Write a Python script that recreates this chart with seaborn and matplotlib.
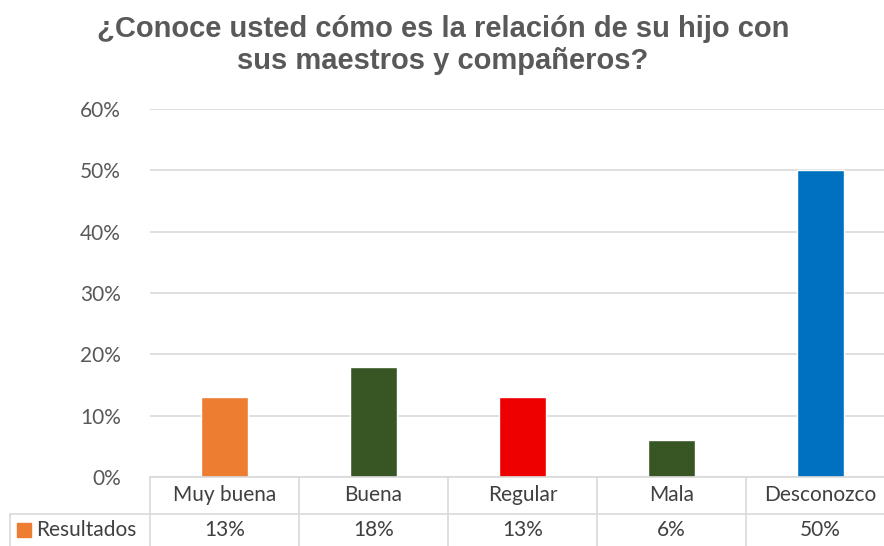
import matplotlib
matplotlib.use("Agg")
import matplotlib.pyplot as plt
import seaborn as sns
import pandas as pd

categories = ["Muy buena", "Buena", "Regular", "Mala", "Desconozco"]
values = [0.13, 0.18, 0.13, 0.06, 0.50]
value_labels = ["13%", "18%", "13%", "6%", "50%"]
bar_colors = ["#ED7D31", "#375623", "#EE0000", "#375623", "#0070C0"]
series_name = "Resultados"
title = "¿Conoce usted cómo es la relación de su hijo con\nsus maestros y compañeros?"

df = pd.DataFrame({"cat": categories, "val": values})

sns.set_style("white")
plt.rcParams["font.family"] = ["Lato", "DejaVu Sans"]

W, H = 884, 546
fig = plt.figure(figsize=(W / 100, H / 100), dpi=100)
ax_left, ax_right, ax_top, ax_bot = 150, 884, 109, 477
ax = fig.add_axes([ax_left / W, 1 - ax_bot / H, (ax_right - ax_left) / W, (ax_bot - ax_top) / H])

sns.barplot(data=df, x="cat", y="val", hue="cat", palette=bar_colors,
            width=0.31, legend=False, ax=ax, saturation=1)

ax.set_ylim(0, 0.6)
ax.set_xlim(-0.5, 4.426)
ax.set_yticks([i / 10 for i in range(7)])
ax.set_yticklabels([f"{i * 10}%" for i in range(7)], fontsize=15, color="#595959")
ax.yaxis.grid(True, color="#D9D9D9", linewidth=1.2)
ax.set_axisbelow(True)
ax.tick_params(axis="y", length=0, pad=21)
ax.set_xticks([])
ax.set_xlabel("")
ax.set_ylabel("")
for s in ax.spines.values():
    s.set_visible(False)

grid_c = "#D9D9D9"
trans = ax.get_xaxis_transform()
px = 1 / (ax_bot - ax_top)  # one pixel in axes fraction
tab_bot = -(H - ax_bot + 2) * px

# table borders
for b in [-0.5 + i for i in range(6)]:
    ax.plot([b, b], [0, tab_bot], transform=trans, color=grid_c, lw=1.2, clip_on=False)
ax.plot([-0.5, 4.426], [0, 0], transform=trans, color=grid_c, lw=1.2, clip_on=False)
fig.add_artist(plt.Line2D([10 / W, 1], [1 - 514 / H, 1 - 514 / H], color=grid_c, lw=1.2))
fig.add_artist(plt.Line2D([10 / W, 10 / W], [1 - 514 / H, 0], color=grid_c, lw=1.2))

for i, (c, v) in enumerate(zip(categories, value_labels)):
    ax.text(i, -(495 - ax_bot) * px, c, transform=trans, ha="center", va="center",
            fontsize=15, color="#404040")
    ax.text(i, -(530 - ax_bot) * px, v, transform=trans, ha="center", va="center",
            fontsize=15, color="#404040")

fig.add_artist(plt.Rectangle((17 / W, 1 - 537 / H), 14 / W, 14 / H, color=bar_colors[0],
                             transform=fig.transFigure))
fig.text(36 / W, 1 - 530 / H, series_name, ha="left", va="center", fontsize=15, color="#404040")

fig.text(0.5 + 1 / W, 1 - 45 / H, title, ha="center", va="center", fontsize=21,
         fontweight="bold", color="#595959", family=["Liberation Sans", "DejaVu Sans"],
         linespacing=1.17)

fig.savefig("out.png", dpi=100)
